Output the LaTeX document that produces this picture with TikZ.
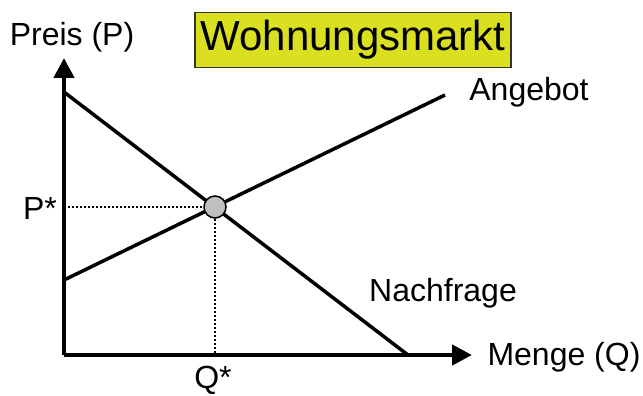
\documentclass[tikz,border=0pt]{standalone}
\usepackage{fontspec}
\setmainfont{Liberation Sans}
\usepackage{xcolor}
\usetikzlibrary{arrows.meta}
\definecolor{titlegelb}{RGB}{218,224,32}

\begin{document}
\begin{tikzpicture}[x=1pt,y=-1pt,
    achse/.style={line width=4.5pt,-{Triangle[length=20pt,width=20pt]}},
    kurve/.style={line width=3.5pt},
    hilfslinie/.style={line width=1.8pt,dash pattern=on 2pt off 2pt},
    beschriftung/.style={font=\fontsize{32}{36}\selectfont}]
    \useasboundingbox (0,0) rectangle (643,396);

    \node[draw=black!80,line width=1.5pt,fill=titlegelb,minimum width=316pt,minimum height=55pt,font=\fontsize{42}{48}\selectfont] (titel) at (353,40) {Wohnungsmarkt};
    \node[beschriftung] (preis) at (72,37) {Preis (P)};

    \coordinate (ursprung) at (64,355);
    \coordinate (ytip) at (64,58);
    \coordinate (xtip) at (472,355);
    \draw[achse] (ursprung) -- (ytip);
    \draw[achse] (ursprung) -- (xtip);

    \coordinate (nstart) at (64,92);
    \coordinate (nende) at (408,355);
    \coordinate (astart) at (64,280);
    \coordinate (aende) at (445,95);
    \draw[kurve] (nstart) -- (nende);
    \draw[kurve] (astart) -- (aende);

    \node[circle,draw,fill=black!25,line width=1.5pt,minimum size=22pt,inner sep=0pt] (gg) at (215,207) {};
    \coordinate (pachse) at (64,207);
    \coordinate (qachse) at (215,355);
    \draw[hilfslinie] (pachse) -- (gg.west);
    \draw[hilfslinie] (gg.south) -- (qachse);

    \node[beschriftung] (pstern) at (40,208) {P*};
    \node[beschriftung] (qstern) at (213,380) {Q*};
    \node[beschriftung] (angebot) at (529,92) {Angebot};
    \node[beschriftung] (nachfrage) at (443,293) {Nachfrage};
    \node[beschriftung] (menge) at (564,357) {Menge (Q)};
\end{tikzpicture}
\end{document}
